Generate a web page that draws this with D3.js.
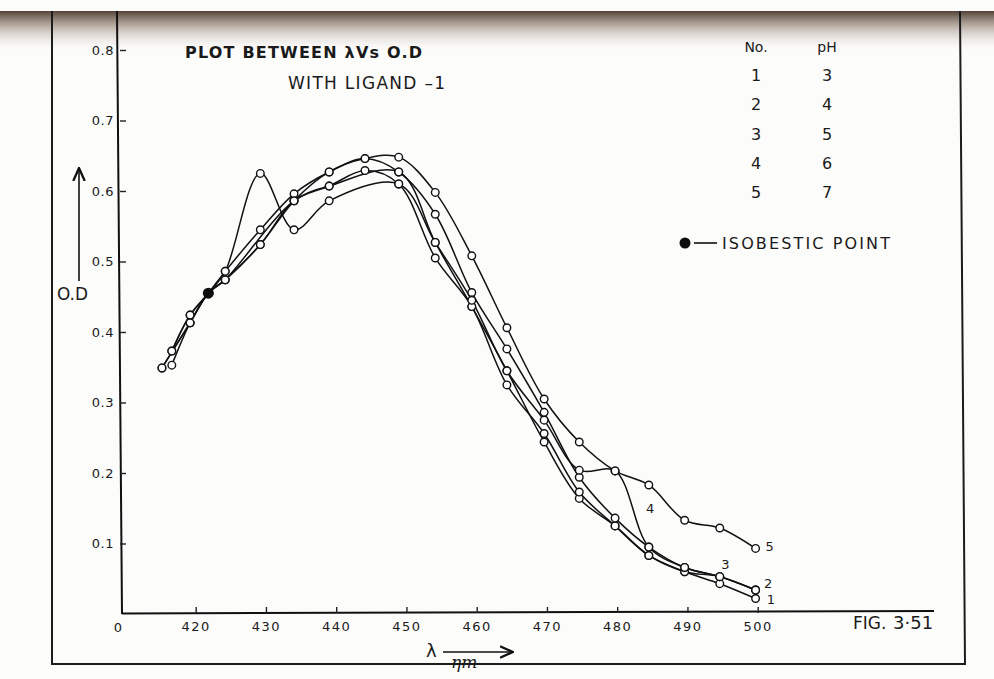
<!DOCTYPE html>
<html>
<head>
<meta charset="utf-8">
<script src="https://cdn.jsdelivr.net/npm/d3@7"></script>
<style>
  html, body { margin: 0; padding: 0; background: #fcfcfb; }
  svg { display: block; }
  text { font-family: 'DejaVu Sans', sans-serif; fill: #1a1a1a; }
</style>
</head>
<body>
<svg id="chart" width="994" height="679"></svg>
<script>
// readings: [wavelength nm, O.D]
const curve1 = [[416.6, 0.353], [419.2, 0.413], [421.8, 0.455], [424.2, 0.474], [434.0, 0.586], [439.0, 0.607], [448.9, 0.627], [454.1, 0.527], [459.3, 0.436], [464.3, 0.345], [469.6, 0.244], [474.6, 0.164], [479.7, 0.125], [484.5, 0.083], [489.6, 0.060], [494.6, 0.043], [499.7, 0.022]];
const curve2 = [[415.2, 0.349], [419.2, 0.413], [421.8, 0.455], [424.2, 0.474], [429.2, 0.524], [434.0, 0.586], [439.0, 0.607], [444.1, 0.629], [448.9, 0.610], [454.1, 0.505], [459.3, 0.436], [464.3, 0.325], [469.6, 0.256], [474.6, 0.173], [479.7, 0.125], [484.5, 0.083], [489.6, 0.060], [494.6, 0.053], [499.7, 0.034]];
const curve3 = [[416.6, 0.373], [419.2, 0.424], [421.8, 0.455], [424.2, 0.486], [429.2, 0.545], [434.0, 0.596], [439.0, 0.627], [444.1, 0.646], [448.9, 0.627], [454.1, 0.567], [459.3, 0.456], [464.3, 0.376], [469.6, 0.286], [474.6, 0.194], [479.7, 0.136], [484.5, 0.095], [489.6, 0.066], [494.6, 0.053], [499.7, 0.034]];
const curve4 = [[416.6, 0.373], [419.2, 0.424], [421.8, 0.455], [424.2, 0.486], [429.2, 0.625], [434.0, 0.545], [439.0, 0.586], [448.9, 0.610], [454.1, 0.527], [459.3, 0.445], [464.3, 0.345], [469.6, 0.275], [474.6, 0.204], [479.7, 0.203], [484.5, 0.095], [489.6, 0.066], [494.6, 0.053], [499.7, 0.034]];
const curve5 = [[415.2, 0.349], [419.2, 0.413], [421.8, 0.455], [424.2, 0.474], [429.2, 0.524], [434.0, 0.586], [439.0, 0.627], [444.1, 0.646], [448.9, 0.648], [454.1, 0.598], [459.3, 0.508], [464.3, 0.406], [469.6, 0.305], [474.6, 0.244], [479.7, 0.203], [484.5, 0.183], [489.6, 0.133], [494.6, 0.122], [499.7, 0.093]];
const isobestic = [421.8, 0.455];

const curveNo = ['1', '2', '3', '4', '5'];
const pHValues = ['3', '4', '5', '6', '7'];
// curve number labels, anchored in data units
const curveLabels = [
  { text: '1', at: [501.3, 0.020] },
  { text: '2', at: [500.9, 0.044] },
  { text: '3', at: [494.8, 0.070] },
  { text: '4', at: [484.1, 0.150] },
  { text: '5', at: [501.1, 0.096] },
];

const xTicks = [420, 430, 440, 450, 460, 470, 480, 490, 500];
const yTicks = [0.1, 0.2, 0.3, 0.4, 0.5, 0.6, 0.7, 0.8];

const svg = d3.select('#chart');

const defs = svg.append('defs');
const band = defs.append('linearGradient')
  .attr('id', 'band').attr('x1', 0).attr('y1', 0).attr('x2', 0).attr('y2', 1);
band.append('stop').attr('offset', '0%').attr('stop-color', '#4a382e').attr('stop-opacity', 0.95);
band.append('stop').attr('offset', '35%').attr('stop-color', '#8a7868').attr('stop-opacity', 0.6);
band.append('stop').attr('offset', '100%').attr('stop-color', '#ffffff').attr('stop-opacity', 0);

defs.append('marker')
  .attr('id', 'arrow').attr('viewBox', '0 0 10 10')
  .attr('refX', 9).attr('refY', 5)
  .attr('markerWidth', 9).attr('markerHeight', 9)
  .attr('orient', 'auto-start-reverse')
  .append('path').attr('d', 'M0,1 L9,5 L0,9').attr('fill', 'none')
  .attr('stroke', '#111').attr('stroke-width', 1.6);

// scan shadow at the top edge
svg.append('rect').attr('x', 0).attr('y', 11).attr('width', 994).attr('height', 42)
  .attr('fill', 'url(#band)');

// page frame
svg.append('path')
  .attr('d', 'M52,11 L52,664 L965,664 L960,11')
  .attr('fill', 'none').attr('stroke', '#1c1c1c').attr('stroke-width', 2);

const x = d3.scaleLinear().domain([420, 500]).range([195.7, 757.7]);
const y = d3.scaleLinear().domain([0, 0.8]).range([614, 50]);

// axes
svg.append('line').attr('x1', 117).attr('y1', 11).attr('x2', 122).attr('y2', 614)
  .attr('stroke', '#111').attr('stroke-width', 2);
svg.append('line').attr('x1', 122).attr('y1', 613.5).attr('x2', 934).attr('y2', 611)
  .attr('stroke', '#111').attr('stroke-width', 2);

const xAxis = svg.append('g')
  .attr('transform', 'translate(0,613)')
  .call(d3.axisBottom(x).tickValues(xTicks).tickSizeInner(-6).tickSizeOuter(0).tickPadding(9));
xAxis.select('.domain').remove();
xAxis.selectAll('.tick line').attr('stroke', '#222').attr('stroke-width', 1.4);
xAxis.selectAll('.tick text')
  .style('font-family', 'DejaVu Sans').style('font-size', '13px')
  .style('letter-spacing', '1.5px').attr('fill', '#333');

svg.append('text').attr('x', 118).attr('y', 632).attr('text-anchor', 'middle')
  .style('font-size', '13px').attr('fill', '#333').text('0');

const yAxis = svg.append('g')
  .attr('transform', 'translate(120,0)')
  .call(d3.axisLeft(y).tickValues(yTicks).tickFormat(d3.format('.1f')).tickSizeInner(-6).tickSizeOuter(0).tickPadding(6));
yAxis.select('.domain').remove();
yAxis.selectAll('.tick line').attr('stroke', '#222').attr('stroke-width', 1.4);
yAxis.selectAll('.tick text')
  .style('font-family', 'DejaVu Sans').style('font-size', '13px')
  .style('letter-spacing', '0.5px').attr('fill', '#333');

// curves
const line = d3.line()
  .x((d) => x(d[0]))
  .y((d) => y(d[1]))
  .curve(d3.curveCatmullRom.alpha(0.5));

const series = [curve1, curve2, curve3, curve4, curve5];

svg.append('g').selectAll('path')
  .data(series)
  .join('path')
  .attr('d', line)
  .attr('fill', 'none')
  .attr('stroke', '#111')
  .attr('stroke-width', 1.5);

svg.append('g').selectAll('circle')
  .data(series.flat().filter((d) => !(d[0] === isobestic[0] && d[1] === isobestic[1])))
  .join('circle')
  .attr('cx', (d) => x(d[0]))
  .attr('cy', (d) => y(d[1]))
  .attr('r', 3.8)
  .attr('fill', '#fff')
  .attr('stroke', '#111')
  .attr('stroke-width', 1.4);

svg.append('circle')
  .attr('cx', x(isobestic[0])).attr('cy', y(isobestic[1]))
  .attr('r', 5.5).attr('fill', '#0d0d0d');

svg.append('g').selectAll('text')
  .data(curveLabels)
  .join('text')
  .attr('x', (d) => x(d.at[0]))
  .attr('y', (d) => y(d.at[1]))
  .attr('dy', '0.35em')
  .style('font-size', '13px')
  .text((d) => d.text);

// title
svg.append('text').attr('x', 185).attr('y', 58)
  .attr('textLength', 237).attr('lengthAdjust', 'spacing')
  .style('font-size', '16px').style('font-weight', 'bold').attr('fill', '#2a2a2a')
  .text('PLOT BETWEEN λVs O.D');
svg.append('text').attr('x', 288).attr('y', 89)
  .attr('textLength', 157).attr('lengthAdjust', 'spacing')
  .style('font-size', '17px')
  .text('WITH LIGAND –1');

// legend table
const legend = svg.append('g');
legend.append('text').attr('x', 756).attr('y', 52).attr('text-anchor', 'middle')
  .style('font-size', '14px').attr('fill', '#555').text('No.');
legend.append('text').attr('x', 827).attr('y', 52).attr('text-anchor', 'middle')
  .style('font-size', '14px').attr('fill', '#555').text('pH');
legend.selectAll('.no')
  .data(curveNo)
  .join('text')
  .attr('class', 'no')
  .attr('x', 756).attr('y', (d, i) => 81 + i * 29.3)
  .attr('text-anchor', 'middle').style('font-size', '16px')
  .text((d) => d);
legend.selectAll('.ph')
  .data(pHValues)
  .join('text')
  .attr('class', 'ph')
  .attr('x', 827).attr('y', (d, i) => 81 + i * 29.3)
  .attr('text-anchor', 'middle').style('font-size', '16px')
  .text((d) => d);

legend.append('circle').attr('cx', 685).attr('cy', 243).attr('r', 5.5).attr('fill', '#0d0d0d');
legend.append('line').attr('x1', 694).attr('x2', 717).attr('y1', 243).attr('y2', 243)
  .attr('stroke', '#111').attr('stroke-width', 1.6);
legend.append('text').attr('x', 722).attr('y', 249)
  .attr('textLength', 168).attr('lengthAdjust', 'spacing')
  .style('font-size', '16px').text('ISOBESTIC POINT');

// axis titles
svg.append('text').attr('x', 57).attr('y', 300)
  .attr('textLength', 31).attr('lengthAdjust', 'spacingAndGlyphs')
  .style('font-size', '17px').text('O.D');
svg.append('line').attr('x1', 79).attr('y1', 281).attr('x2', 79).attr('y2', 168)
  .attr('stroke', '#111').attr('stroke-width', 1.6).attr('marker-end', 'url(#arrow)');

svg.append('text').attr('x', 426).attr('y', 657).style('font-size', '18px').text('λ');
svg.append('line').attr('x1', 443).attr('y1', 652).attr('x2', 513).attr('y2', 652)
  .attr('stroke', '#111').attr('stroke-width', 1.6).attr('marker-end', 'url(#arrow)');
svg.append('text').attr('x', 451).attr('y', 668)
  .style('font-family', 'DejaVu Serif').style('font-style', 'italic').style('font-size', '17px')
  .text('ηm');

// figure number
svg.append('text').attr('x', 853).attr('y', 629).style('font-size', '17px').text('FIG.');
svg.append('text').attr('x', 893).attr('y', 629)
  .style('font-size', '18px').attr('fill', '#2f4a9c').text('3·51');
</script>
</body>
</html>
